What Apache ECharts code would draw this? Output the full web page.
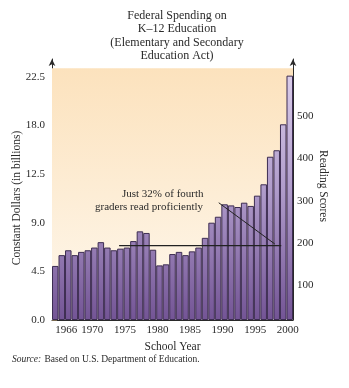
<!DOCTYPE html>
<html>
<head>
<meta charset="utf-8">
<script src="https://cdn.jsdelivr.net/npm/echarts@6/dist/echarts.min.js"></script>
<style>
html,body{margin:0;padding:0;background:#fff;}
#c{width:349px;height:388px;}
</style>
</head>
<body>
<div id="c"></div>
<script>
// ---- data ----
const years = ['1964','1965','1966','1967','1968','1969','1970','1971','1972','1973','1974','1975','1976','1977','1978','1979','1980','1981','1982','1983','1984','1985','1986','1987','1988','1989','1990','1991','1992','1993','1994','1995','1996','1997','1998','1999','2000'];
const spending = [5.0,6.0,6.45,6.0,6.3,6.45,6.7,7.2,6.7,6.45,6.6,6.7,7.3,8.2,8.05,6.5,5.05,5.15,6.1,6.3,6.0,6.35,6.7,7.6,9.0,9.55,10.7,10.6,10.45,10.85,10.55,11.5,12.55,15.1,15.7,18.1,22.6];
const shownYears = ['1966','1970','1975','1980','1985','1990','1995','2000'];
const leftTickValues = [0, 4.5, 9, 13.5, 18, 22.5];
const leftTickLabels = ['0.0','4.5','9.0','12.5','18.0','22.5'];
const rightTickValues = [100, 200, 300, 400, 500];
const readingLineYears = [1973.8, 1998.7];
const readingLineScores = [193, 193];
const pointerYears = [1989.1, 1997.7];
const pointerScores = [295, 197];
const titleLines = ['Federal Spending on','K\u201312 Education','(Elementary and Secondary','Education Act)'];
const noteLines = ['Just 32% of fourth','graders read proficiently'];
const leftAxisTitle = 'Constant Dollars (in billions)';
const rightAxisTitle = 'Reading Scores';

const FONT = "'Liberation Serif','Times New Roman',serif";
const INK = '#2a2a2a';

const chart = echarts.init(document.getElementById('c'), null, {renderer:'canvas'});

const option = {
  backgroundColor: '#ffffff',
  animation: false,
  title: {
    text: titleLines.join('\n'),
    left: 172, top: 4, textAlign: 'center',
    textStyle: {fontFamily: FONT, fontSize: 12, fontWeight: 'normal', color: INK, lineHeight: 13.5}
  },
  grid: {left: 52, right: 56, top: 59, bottom: 68, outerBoundsMode: 'none', containLabel: false},
  xAxis: [{
    type: 'category',
    data: years,
    boundaryGap: true,
    name: 'School Year',
    nameLocation: 'middle',
    nameGap: 21,
    nameTextStyle: {fontFamily: FONT, fontSize: 11.5, color: INK},
    axisLine: {show: true, lineStyle: {color: INK, width: 1}},
    axisTick: {show: false},
    axisLabel: {
      interval: 0, margin: 5, padding: [0, 4, 0, 0],
      fontFamily: FONT, fontSize: 11, color: INK,
      formatter: v => shownYears.indexOf(v) >= 0 ? v : ''
    },
    splitLine: {show: false}
  }, {
    type: 'value', min: 1963.5, max: 2000.5, show: false, position: 'top'
  }],
  yAxis: [{
    type: 'value', min: 0, max: 24.14,
    axisLine: {show: true, symbol: ['none','arrow'], symbolSize: [5, 7], lineStyle: {color: INK, width: 1}},
    axisTick: {show: true, inside: true, length: 5, customValues: leftTickValues, lineStyle: {color: '#7a6a50'}},
    axisLabel: {
      customValues: leftTickValues, margin: 7,
      fontFamily: FONT, fontSize: 11, color: INK,
      formatter: v => { const i = leftTickValues.indexOf(v); return i >= 0 ? leftTickLabels[i] : ''; }
    },
    splitLine: {show: false}
  }, {
    type: 'value', min: 16, max: 637, position: 'right',
    axisLine: {show: true, symbol: ['none','arrow'], symbolSize: [5, 7], lineStyle: {color: INK, width: 1}},
    axisTick: {show: true, inside: true, length: 7, customValues: rightTickValues, lineStyle: {color: '#3b2b4f'}},
    axisLabel: {customValues: rightTickValues, margin: 4, fontFamily: FONT, fontSize: 11, color: INK},
    splitLine: {show: false}
  }],
  graphic: [
    {type: 'text', x: 17, y: 198, rotation: Math.PI / 2, style: {text: leftAxisTitle, align: 'center', verticalAlign: 'middle', font: "11.5px 'Liberation Serif', serif", fill: INK}},
    {type: 'text', x: 323, y: 186, rotation: -Math.PI / 2, style: {text: rightAxisTitle, align: 'center', verticalAlign: 'middle', font: "11.5px 'Liberation Serif', serif", fill: INK}},
    {type: 'text', left: 122, top: 189, z: 10, style: {text: noteLines[0], font: "11px 'Liberation Serif', serif", fill: INK}},
    {type: 'text', left: 95, top: 202, z: 10, style: {text: noteLines[1], font: "11px 'Liberation Serif', serif", fill: INK}},
    {type: 'text', left: 12, top: 353, style: {
      rich: {
        i: {fontFamily: FONT, fontSize: 9.5, fontStyle: 'italic', fill: INK},
        n: {fontFamily: FONT, fontSize: 9.5, fill: INK}
      },
      text: '{i|Source:} {n|Based on U.S. Department of Education.}'
    }}
  ],
  series: [{
    type: 'line', data: [], z: 0, silent: true,
    markArea: {
      silent: true,
      itemStyle: {
        color: {type: 'linear', x: 0, y: 0, x2: 0, y2: 1,
          colorStops: [{offset: 0, color: '#fce2bd'}, {offset: 1, color: '#fef8ee'}]}
      },
      data: [[{yAxis: 0}, {yAxis: 23.28}]]
    }
  }, {
    type: 'bar',
    data: spending,
    xAxisIndex: 0, yAxisIndex: 0,
    barCategoryGap: '0%',
    z: 2,
    itemStyle: {
      color: {type: 'linear', x: 0, y: 59, x2: 0, y2: 320, global: true,
        colorStops: [{offset: 0, color: '#e0d4ee'}, {offset: 0.5, color: '#b09ccb'}, {offset: 1, color: '#735495'}]},
      borderColor: '#3d2d52', borderWidth: 1
    }
  }, {
    type: 'line', xAxisIndex: 1, yAxisIndex: 1, z: 5,
    data: readingLineYears.map((x, i) => [x, readingLineScores[i]]),
    symbol: 'none', lineStyle: {color: '#222', width: 1.2}
  }, {
    type: 'line', xAxisIndex: 1, yAxisIndex: 1, z: 5,
    data: pointerYears.map((x, i) => [x, pointerScores[i]]),
    symbol: 'none', lineStyle: {color: '#222', width: 1}
  }]
};
chart.setOption(option);
</script>
</body>
</html>
